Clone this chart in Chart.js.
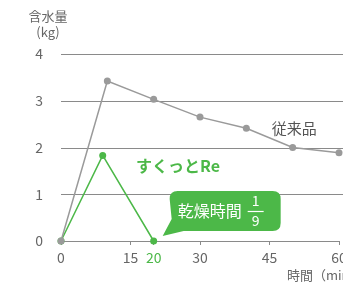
<!DOCTYPE html>
<html>
<head>
<meta charset="utf-8">
<script src="https://cdn.jsdelivr.net/npm/chart.js@4"></script>
<style>
  html, body { margin: 0; padding: 0; background: #fff; }
  #wrap { width: 343px; height: 282px; }
</style>
</head>
<body>
<div id="wrap"><canvas id="chart" width="343" height="282"></canvas></div>
<script>
// data
const xTicks = [0, 15, 20, 30, 45, 60];
const yTicks = [0, 1, 2, 3, 4];
const conventionalX = [0, 10, 20, 30, 40, 50, 60];
const conventionalY = [0, 3.42, 3.03, 2.65, 2.41, 2.0, 1.89];
const sukuttoX = [0, 9, 20];
const sukuttoY = [0, 1.83, 0];

const GREEN = '#4cb848';
const GRAY = '#9a9a9a';
const TEXT = '#666';
const FONT = "'Noto Sans CJK JP', 'Noto Sans', sans-serif";

const toPoints = (xs, ys) => xs.map((x, i) => ({ x: x, y: ys[i] }));

// horizontal grid lines running to the right edge, plus all the text labels
const decor = {
  id: 'decor',
  beforeDatasetsDraw(chart) {
    const { ctx, chartArea, scales: { x, y } } = chart;
    ctx.save();
    ctx.strokeStyle = '#8a8a8a';
    ctx.lineWidth = 1;
    yTicks.slice(1).forEach(v => {
      const py = Math.round(y.getPixelForValue(v)) + 0.5;
      ctx.beginPath();
      ctx.moveTo(chartArea.left, py);
      ctx.lineTo(chart.width, py);
      ctx.stroke();
    });
    ctx.restore();
  },
  afterDatasetsDraw(chart) {
    const { ctx, scales: { x, y } } = chart;
    ctx.save();
    ctx.textBaseline = 'middle';

    // axis titles
    ctx.fillStyle = TEXT;
    ctx.font = '13px ' + FONT;
    ctx.textAlign = 'center';
    ctx.fillText('含水量', 48, 16);
    ctx.fillText('(kg)', 48, 32);
    ctx.textAlign = 'left';
    ctx.fillText('時間（min）', 287, 275);

    // series labels
    ctx.font = '15px ' + FONT;
    ctx.fillStyle = '#555';
    ctx.fillText('従来品', x.getPixelForValue(45.5), y.getPixelForValue(2.42));
    ctx.font = 'bold 16px ' + FONT;
    ctx.fillStyle = GREEN;
    ctx.fillText('すくっとRe', x.getPixelForValue(16.2), y.getPixelForValue(1.6));

    // callout at the green end point
    const tipX = x.getPixelForValue(20) + 9, tipY = y.getPixelForValue(0) - 5;
    const L = tipX + 7, R = tipX + 118, T = tipY - 45, B = tipY - 5, r = 8;
    ctx.fillStyle = GREEN;
    ctx.beginPath();
    ctx.moveTo(L + r, T);
    ctx.lineTo(R - r, T);
    ctx.quadraticCurveTo(R, T, R, T + r);
    ctx.lineTo(R, B - r);
    ctx.quadraticCurveTo(R, B, R - r, B);
    ctx.lineTo(L + 14, B);
    ctx.lineTo(tipX, tipY);
    ctx.lineTo(L + 2, B - 12);
    ctx.lineTo(L, T + r);
    ctx.quadraticCurveTo(L, T, L + r, T);
    ctx.closePath();
    ctx.fill();

    ctx.fillStyle = '#fff';
    ctx.font = '16px ' + FONT;
    ctx.textAlign = 'left';
    const midY = (T + B) / 2;
    ctx.fillText('乾燥時間', L + 8, midY);
    const fx = L + 86;
    ctx.font = '14px ' + FONT;
    ctx.textAlign = 'center';
    ctx.fillText('1', fx, midY - 10);
    ctx.fillText('9', fx, midY + 10);
    ctx.strokeStyle = '#fff';
    ctx.lineWidth = 1.2;
    ctx.beginPath();
    ctx.moveTo(fx - 8, midY + 0.5);
    ctx.lineTo(fx + 8, midY + 0.5);
    ctx.stroke();
    ctx.restore();
  }
};

new Chart(document.getElementById('chart'), {
  type: 'scatter',
  data: {
    datasets: [
      {
        label: '従来品',
        data: toPoints(conventionalX, conventionalY),
        showLine: true,
        clip: false,
        borderColor: GRAY,
        backgroundColor: GRAY,
        borderWidth: 1.5,
        pointRadius: 3.5,
        pointBorderWidth: 0
      },
      {
        label: 'すくっとRe',
        data: toPoints(sukuttoX, sukuttoY),
        showLine: true,
        clip: false,
        borderColor: GREEN,
        backgroundColor: GREEN,
        borderWidth: 1.5,
        pointRadius: 3.5,
        pointBorderWidth: 0
      }
    ]
  },
  plugins: [decor],
  options: {
    responsive: false,
    animation: false,
    layout: { padding: { top: 54, right: 3, left: 0, bottom: 0 } },
    plugins: { legend: { display: false }, tooltip: { enabled: false } },
    scales: {
      x: {
        type: 'linear',
        min: 0, max: 60,
        afterBuildTicks: s => { s.ticks = xTicks.map(v => ({ value: v })); },
        afterFit: s => { s.height = 41; s.paddingLeft = 0; s.paddingRight = 0; },
        grid: { drawOnChartArea: false, drawTicks: true, tickLength: 4, color: '#8a8a8a' },
        border: { display: true, color: '#8a8a8a', width: 1 },
        ticks: {
          padding: 4,
          color: c => c.tick.value === 20 ? GREEN : TEXT,
          font: { size: 14, family: FONT }
        }
      },
      y: {
        min: 0, max: 4,
        afterBuildTicks: s => { s.ticks = yTicks.map(v => ({ value: v })); },
        afterFit: s => { s.width = 61; s.paddingTop = 0; s.paddingBottom = 0; },
        grid: { display: false },
        border: { display: false },
        ticks: { padding: 10, color: TEXT, font: { size: 14, family: FONT } }
      }
    }
  }
});
</script>
</body>
</html>
